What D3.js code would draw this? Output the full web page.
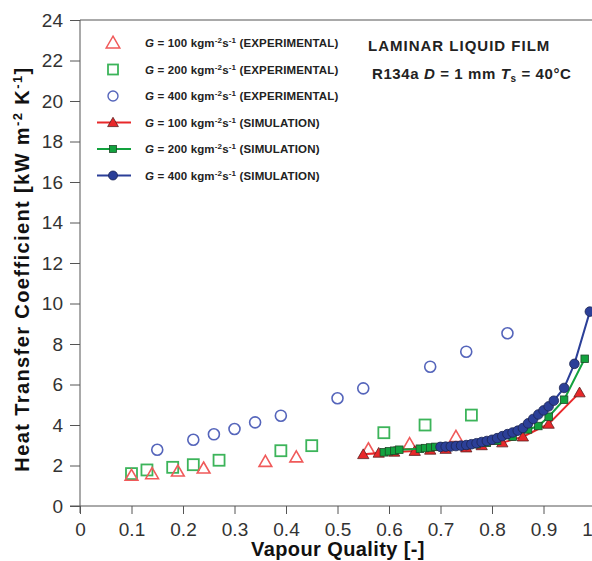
<!DOCTYPE html>
<html>
<head>
<meta charset="utf-8">
<script src="https://cdn.jsdelivr.net/npm/d3@7"></script>
<style>
body{margin:0;background:#fff}
</style>
</head>
<body>
<svg id="chartSvg" width="592" height="561"></svg>
<script>
//---experimental points---
var expX100=[0.10,0.14,0.19,0.24,0.36,0.42,0.56,0.64,0.73]
var expY100=[1.45,1.53,1.66,1.81,2.14,2.36,2.76,3.01,3.37]

var expX200=[0.10,0.13,0.18,0.22,0.27,0.39,0.45,0.59,0.67,0.76]
var expY200=[1.60,1.78,1.91,2.04,2.26,2.73,2.98,3.62,4.00,4.49]

var expX400=[0.15,0.22,0.26,0.30,0.34,0.39,0.50,0.55,0.68,0.75,0.83]
var expY400=[2.78,3.27,3.54,3.80,4.13,4.46,5.32,5.81,6.88,7.62,8.53]

//---simulation curves---
var simX100=[0.55,0.58,0.61,0.65,0.68,0.71,0.75,0.78,0.82,0.86,0.91,0.97]
var simY100=[2.55,2.62,2.67,2.71,2.77,2.81,2.88,2.99,3.13,3.42,4.05,5.60]

var simX200=[0.59,0.60,0.61,0.62,0.66,0.67,0.68,0.69,0.71,0.73,0.75,0.77,0.79,0.81,0.84,0.87,0.89,0.91,0.94,0.98]
var simY200=[2.65,2.70,2.73,2.78,2.83,2.86,2.89,2.92,2.94,2.97,3.00,3.05,3.12,3.22,3.42,3.78,3.95,4.41,5.25,7.27]

var simX400=[0.70,0.71,0.72,0.73,0.74,0.75,0.76,0.77,0.78,0.79,0.80,0.81,0.82,0.83,0.84,0.85,0.86,0.87,0.88,0.89,0.90,0.91,0.92,0.94,0.96,0.99]
var simY400=[2.92,2.93,2.94,2.96,2.98,3.01,3.05,3.10,3.16,3.21,3.27,3.35,3.45,3.55,3.63,3.72,3.85,4.08,4.30,4.52,4.72,4.92,5.20,5.83,7.02,9.60]

var xTicks=[0,0.1,0.2,0.3,0.4,0.5,0.6,0.7,0.8,0.9,1.0]
var yTicks=[0,2,4,6,8,10,12,14,16,18,20,22,24]

var legendG=["100","200","400","100","200","400"]
var legendKind=["EXPERIMENTAL","EXPERIMENTAL","EXPERIMENTAL","SIMULATION","SIMULATION","SIMULATION"]

var fontFam="'Liberation Sans', Arial, Helvetica, sans-serif"
var red="#e8282a", redExp="#f05a5a"
var green="#12a23e", greenExp="#3cb45a"
var blue="#2b3f98", blueExp="#5565bb"

var svg=d3.select("#chartSvg")

var xScale=d3.scaleLinear().domain([0,1]).range([80,595])
var yScale=d3.scaleLinear().domain([0,24]).range([506,20])

function zip(xs,ys){return xs.map(function(x,i){return {x:x,y:ys[i]}})}

//---axes---
var xAxisG=svg.append("g")
  .attr("transform","translate(0,506)")
  .call(d3.axisBottom(xScale).tickValues(xTicks).tickSize(8).tickSizeOuter(0)
    .tickFormat(function(d){return d==0?"0":d3.format(".1f")(d)}))
xAxisG.select(".domain").attr("d","M70,0H592").attr("stroke","#555")
xAxisG.selectAll(".tick line").attr("stroke","#555")
xAxisG.selectAll("text")
  .attr("font-family",fontFam)
  .attr("font-size","19px")
  .attr("fill","#333")
  .attr("dy","1.0em")

var yAxisG=svg.append("g")
  .attr("transform","translate(80,0)")
  .call(d3.axisLeft(yScale).tickValues(yTicks).tickSize(10).tickSizeOuter(0))
yAxisG.select(".domain").attr("d","M0,20V513").attr("stroke","#555")
yAxisG.selectAll(".tick line").attr("stroke","#555")
yAxisG.selectAll("text")
  .attr("font-family",fontFam)
  .attr("font-size","19px")
  .attr("fill","#333")
  .attr("x",-17)

//---top frame line---
svg.append("line")
  .attr("x1",80).attr("x2",592)
  .attr("y1",20).attr("y2",20)
  .attr("stroke","#555")

//---marker helpers---
var triSym=d3.symbol().type(d3.symbolTriangle)
function addTri(g,x,y,size,fill,stroke,sw){
  g.append("path").attr("transform","translate("+x+","+y+")")
   .attr("d",triSym.size(size)()).attr("fill",fill).attr("stroke",stroke).attr("stroke-width",sw)
}
function addSq(g,x,y,s,fill,stroke,sw){
  g.append("rect").attr("x",x-s/2).attr("y",y-s/2).attr("width",s).attr("height",s)
   .attr("fill",fill).attr("stroke",stroke).attr("stroke-width",sw)
}
function addCirc(g,x,y,r,fill,stroke,sw){
  g.append("circle").attr("cx",x).attr("cy",y).attr("r",r)
   .attr("fill",fill).attr("stroke",stroke).attr("stroke-width",sw)
}

var plotG=svg.append("g")

//---experimental markers---
zip(expX400,expY400).forEach(function(d){addCirc(plotG,xScale(d.x),yScale(d.y),5.5,"none",blueExp,1.6)})
zip(expX200,expY200).forEach(function(d){addSq(plotG,xScale(d.x),yScale(d.y),11,"none",greenExp,1.8)})
zip(expX100,expY100).forEach(function(d){addTri(plotG,xScale(d.x),yScale(d.y),70,"none",redExp,1.6)})

//---simulation lines---
var line=d3.line().x(function(d){return xScale(d.x)}).y(function(d){return yScale(d.y)})

plotG.append("path").datum(zip(simX100,simY100)).attr("d",line)
  .attr("fill","none").attr("stroke",red).attr("stroke-width",2)
zip(simX100,simY100).forEach(function(d){addTri(plotG,xScale(d.x),yScale(d.y)+1,55,red,"#5a2020",0.8)})

plotG.append("path").datum(zip(simX200,simY200)).attr("d",line)
  .attr("fill","none").attr("stroke",green).attr("stroke-width",2)
zip(simX200,simY200).forEach(function(d){addSq(plotG,xScale(d.x),yScale(d.y),7.5,green,"#1d4a28",0.8)})

plotG.append("path").datum(zip(simX400,simY400)).attr("d",line)
  .attr("fill","none").attr("stroke",blue).attr("stroke-width",2)
zip(simX400,simY400).forEach(function(d){addCirc(plotG,xScale(d.x),yScale(d.y),4.8,blue,"#1c2450",0.8)})

//---legend---
var legG=svg.append("g")
for(var k=0;k<6;k++)
{
  var ly=43+k*26.5
  var col=[redExp,greenExp,blueExp,red,green,blue][k]
  if(k<3)
  {
    if(k==0) addTri(legG,113,ly+1,80,"none",col,1.5)
    if(k==1) addSq(legG,113,ly,10,"none",col,1.8)
    if(k==2) addCirc(legG,113,ly,5,"none",col,1.4)
  }
  else
  {
    legG.append("line").attr("x1",97).attr("x2",131).attr("y1",ly).attr("y2",ly)
      .attr("stroke",col).attr("stroke-width",2)
    if(k==3) addTri(legG,113,ly+1,50,col,"#5a2020",0.8)
    if(k==4) addSq(legG,113,ly,7,col,"#1d4a28",0.8)
    if(k==5) addCirc(legG,113,ly,4.5,col,"#1c2450",0.8)
  }
  var t=legG.append("text")
    .attr("x",145).attr("y",ly+4)
    .attr("font-family",fontFam)
    .attr("font-size","11.5px")
    .attr("font-weight","bold")
    .attr("letter-spacing","0.15px")
    .attr("fill","#222")
  t.append("tspan").attr("font-style","italic").text("G")
  t.append("tspan").text(" = "+legendG[k]+" kgm")
  t.append("tspan").attr("font-size","8px").attr("dy","-4").text("-2")
  t.append("tspan").attr("dy","4").text("s")
  t.append("tspan").attr("font-size","8px").attr("dy","-4").text("-1")
  t.append("tspan").attr("dy","4").text(" ("+legendKind[k]+")")
}

//---annotation top right---
svg.append("text")
  .attr("x",368).attr("y",51)
  .attr("font-family",fontFam)
  .attr("font-size","15px")
  .attr("font-weight","bold")
  .attr("letter-spacing","1px")
  .attr("fill","#222")
  .text("LAMINAR LIQUID FILM")

var note=svg.append("text")
  .attr("x",372).attr("y",79)
  .attr("font-family",fontFam)
  .attr("font-size","15px")
  .attr("font-weight","bold")
  .attr("letter-spacing","0.6px")
  .attr("fill","#222")
note.append("tspan").text("R134a ")
note.append("tspan").attr("font-style","italic").text("D")
note.append("tspan").text(" = 1 mm  ")
note.append("tspan").attr("font-style","italic").text("T")
note.append("tspan").attr("font-size","10px").attr("dy","3").text("s")
note.append("tspan").attr("dy","-3").text(" = 40\u00b0C")

//---axis titles---
svg.append("text")
  .attr("x",338).attr("y",556)
  .attr("text-anchor","middle")
  .attr("font-family",fontFam)
  .attr("font-size","20px")
  .attr("font-weight","bold")
  .attr("letter-spacing","0.4px")
  .attr("fill","#111")
  .text("Vapour Quality [-]")

var yTitle=svg.append("text")
  .attr("transform","translate(29 269)rotate(-90)")
  .attr("text-anchor","middle")
  .attr("font-family",fontFam)
  .attr("font-size","20px")
  .attr("font-weight","bold")
  .attr("letter-spacing","1.4px")
  .attr("fill","#111")
yTitle.append("tspan").text("Heat Transfer Coefficient [kW m")
yTitle.append("tspan").attr("font-size","13px").attr("dy","-7").text("-2")
yTitle.append("tspan").attr("dy","7").text(" K")
yTitle.append("tspan").attr("font-size","13px").attr("dy","-7").text("-1")
yTitle.append("tspan").attr("dy","7").text("]")
</script>
</body>
</html>
